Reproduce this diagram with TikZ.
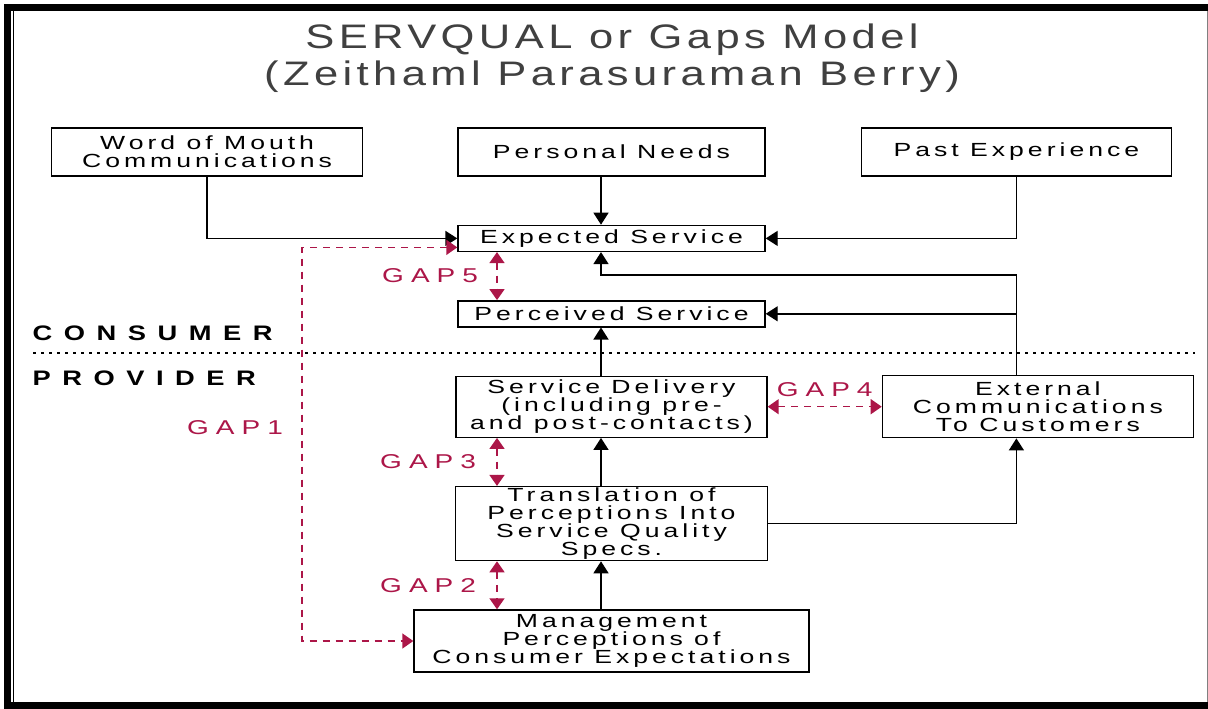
\documentclass[tikz,border=0pt]{standalone}
\usepackage{fontspec}
\setmainfont{Liberation Sans}
\newfontfamily\boxfont[FakeStretch=1.4,LetterSpace=21]{Liberation Sans}
\newfontfamily\gapfont[FakeStretch=1.4,LetterSpace=35]{Liberation Sans}
\newfontfamily\titlefont[FakeStretch=1.28,LetterSpace=13]{Liberation Sans}
\newfontfamily\sidefont[FakeStretch=1.3,LetterSpace=55]{Liberation Sans}
\usetikzlibrary{arrows.meta, positioning}
\definecolor{gapred}{RGB}{172,22,72}

\begin{document}
\begin{tikzpicture}[x=1pt, y=-1pt,
        box/.style={rectangle, draw, line width=1.4pt, align=center, inner sep=0pt, font=\boxfont\fontsize{19}{18}\selectfont},
        arrow/.style={draw, line width=1.4pt, -{Triangle[length=12pt,width=15pt]}},
        gap/.style={draw, gapred, line width=1.5pt, dash pattern=on 7pt off 6pt, {Triangle[length=11pt,width=15pt]}-{Triangle[length=11pt,width=15pt]}},
        gaplabel/.style={gapred, font=\gapfont\fontsize{20}{20}\selectfont},
        side/.style={font=\sidefont\bfseries\fontsize{21}{21}\selectfont, anchor=west},
        node distance=48pt and 94pt
        ]

        % Frame
        \useasboundingbox (0,0) rectangle (1208,709);
        \fill[white] (0,0) rectangle (1208,709);
        \fill[black] (4,4) rectangle (1208,11);
        \fill[black] (4,4) rectangle (11,709);
        \fill[black] (4,702) rectangle (1208,709);
        \draw[line width=1pt] (13,11) -- (13,702);
        \draw[gray, line width=1pt] (1207,11) -- (1207,702);

        % Title
        \node (title) [align=center, black!75, font=\titlefont\fontsize{34}{37}\selectfont] at (612,58) {SERVQUAL or Gaps Model\\(Zeithaml Parasuraman Berry)};

        % Nodes
        \node (personal) [box, minimum width=307pt, minimum height=48pt] at (611.5,152) {Personal Needs};
        \node (word) [box, minimum width=311pt, minimum height=48pt, left=94pt of personal] {Word of Mouth\\Communications};
        \node (past) [box, minimum width=310pt, minimum height=48pt, right=95pt of personal] {Past Experience};
        \node (expected) [box, minimum width=307pt, minimum height=26pt, below=of personal] {Expected Service};
        \node (perceived) [box, minimum width=307pt, minimum height=26pt, below=of expected] {Perceived Service};
        \node (delivery) [box, minimum width=311pt, minimum height=61pt, below=of perceived] {Service Delivery\\(including pre-\\and post-contacts)};
        \node (external) [box, minimum width=311pt, minimum height=62pt, right=114pt of delivery] {External\\Communications\\To Customers};
        \node (translation) [box, minimum width=312pt, minimum height=74pt, below=of delivery] {Translation of\\Perceptions Into\\Service Quality\\Specs.};
        \node (management) [box, minimum width=395pt, minimum height=62pt, below=of translation] {Management\\Perceptions of\\Consumer Expectations};

        % Consumer / provider split
        \draw[line width=2pt, dash pattern=on 3pt off 5pt] (33,353) -- (1195,353);
        \node (consumer) [side] at (29,333) {CONSUMER};
        \node (provider) [side] at (29,378) {PROVIDER};

        % Arrows
        \coordinate (maincol) at (601,0);
        \coordinate (feedback) at (past.south |- 0,275);
        \draw [arrow] (word.south) |- (expected.west);
        \draw [arrow] (personal.south -| maincol) -- (expected.north -| maincol);
        \draw [arrow] (past.south) |- (expected.east);
        \draw [arrow] (external.north -| feedback) -- (feedback) -| (expected.south -| maincol);
        \draw [arrow] (feedback) |- (perceived.east);
        \draw [arrow] (delivery.north -| maincol) -- (perceived.south -| maincol);
        \draw [arrow] (translation.north -| maincol) -- (delivery.south -| maincol);
        \draw [arrow] (translation.east) -| (external.south -| feedback);
        \draw [arrow] (management.north -| maincol) -- (translation.south -| maincol);

        % Gaps
        \coordinate (gapcol) at (497,0);
        \coordinate (gapone) at (302,0);
        \draw [gap] ([yshift=-9pt]expected.west) -| (gapone |- management.west) -- (management.west);
        \node (gap1) [gaplabel] at (235,428) {GAP1};
        \draw [gap] (expected.south -| gapcol) -- node (gap5) [gaplabel, left=15pt] {GAP5} (perceived.north -| gapcol);
        \draw [gap] (delivery.east) -- node (gap4) [gaplabel, above=6pt] {GAP4} (external.west);
        \draw [gap] (delivery.south -| gapcol) -- node (gap3) [gaplabel, left=17pt] {GAP3} (translation.north -| gapcol);
        \draw [gap] (translation.south -| gapcol) -- node (gap2) [gaplabel, left=17pt] {GAP2} (management.north -| gapcol);

    \end{tikzpicture}
\end{document}
